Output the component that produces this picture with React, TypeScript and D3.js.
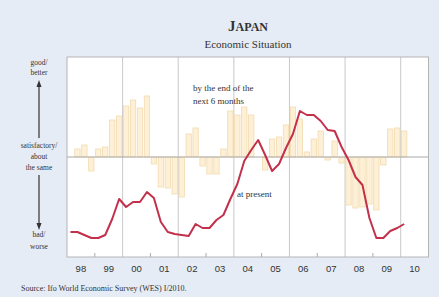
import React from 'react';
import * as d3 from 'd3';

// quarterly, 1998 Q1 .. 2010 Q1
const startYear = 1998;
const presentValues = [
  -75, -75, -78, -81,
  -81, -78, -62, -42,
  -50, -45, -45, -35,
  -41, -65, -75, -77,
  -78, -79, -67, -71,
  -71, -63, -58, -42,
  -27, -4, 7, 17,
  2, -14, -7, 9,
  23, 46, 42, 42,
  36, 27, 26, 10,
  -3, -20, -28, -61,
  -81, -81, -74, -71,
  -67,
];
const expectValues = [
  0, 8, 12, -14,
  8, 10, 37, 41,
  51, 57, 49, 61,
  -7, -30, -31, -37,
  -40, 23, 29, -9,
  -17, -17, 8, 46,
  42, 50, 42, 0,
  -13, 18, 20, 32,
  50, 38, 5, 18,
  26, -3, 16, -6,
  -48, -51, -50, -47,
  -53, -8, 28, 29,
  26,
];
const yearLabels = ['98', '99', '00', '01', '02', '03', '04', '05', '06', '07', '08', '09', '10'];

const W = 439;
const H = 297;
const left = 67;
const right = 428.5;
const top = 57;
const bottom = 257;
const serif = '"Liberation Serif", "DejaVu Serif", serif';
const sans = '"Liberation Sans", Arial, sans-serif';
const textCol = '#333';

export default function App() {
  const x = d3.scaleLinear().domain([startYear, startYear + yearLabels.length]).range([left, right]);
  const y = d3.scaleLinear().domain([-100, 100]).range([bottom, top]);
  const qw = x(startYear + 0.25) - x(startYear);

  const line = d3
    .line<number>()
    .x((_, i) => x(startYear + (i + 0.5) / 4))
    .y((d) => y(d));

  const years = d3.range(startYear, startYear + yearLabels.length + 1);

  return (
    <svg width={W} height={H} style={{ position: 'absolute', left: 0, top: 0 }}>
      <rect x={0} y={0} width={W} height={H} fill="#e6ecf5" />
      <text x={248} y={31} textAnchor="middle" fontFamily={serif} fill={textCol} fontWeight="bold">
        <tspan fontSize={15}>J</tspan>
        <tspan fontSize={12}>APAN</tspan>
      </text>
      <text x={248} y={48} textAnchor="middle" fontFamily={serif} fontSize={11} fill={textCol}>
        Economic Situation
      </text>

      <rect x={left} y={top} width={right - left} height={bottom - top} fill="#fff" />

      {/* grid lines on even years, ticks on odd years */}
      {years.slice(1, -1).map((yr) =>
        yr % 2 === 0 ? (
          <line key={yr} x1={x(yr)} x2={x(yr)} y1={top} y2={bottom} stroke="#c9c9c9" strokeWidth={1} />
        ) : (
          <line key={yr} x1={x(yr)} x2={x(yr)} y1={bottom - 4} y2={bottom} stroke="#aaa" strokeWidth={1} />
        )
      )}

      {expectValues.map((v, i) => {
        const x0 = x(startYear + i / 4);
        return (
          <rect
            key={i}
            x={x0 + 0.8}
            y={Math.min(y(v), y(0))}
            width={qw - 1.6}
            height={Math.abs(y(v) - y(0))}
            fill="#fdf0d6"
            stroke="#f1dbb0"
            strokeWidth={0.8}
          />
        );
      })}

      <line x1={left} x2={right} y1={y(0)} y2={y(0)} stroke="#a8a8a8" strokeWidth={1} />

      <path d={line(presentValues) || ''} fill="none" stroke="#c3304c" strokeWidth={2} strokeLinejoin="round" />

      <rect x={left} y={top} width={right - left} height={bottom - top} fill="none" stroke="#b4b4b4" strokeWidth={1} />

      <text fontFamily={serif} fontSize={9} fill={textCol}>
        <tspan x={193} y={91}>by the end of the</tspan>
        <tspan x={193} y={104}>next 6 months</tspan>
      </text>
      <text x={237} y={197} fontFamily={serif} fontSize={9} fill={textCol}>
        at present
      </text>

      {/* left side scale description */}
      <g fontFamily={serif} fontSize={7.5} fill={textCol} textAnchor="middle">
        <text x={39} y={65}>good/</text>
        <text x={39} y={75}>better</text>
        <text x={39} y={148}>satisfactory/</text>
        <text x={39} y={159}>about</text>
        <text x={39} y={170}>the same</text>
        <text x={39} y={237}>bad/</text>
        <text x={39} y={249}>worse</text>
      </g>
      <line x1={39} x2={39} y1={86} y2={138} stroke="#333" strokeWidth={1.2} />
      <path d="M36.5,87 L39,80 L41.5,87 Z" fill="#333" />
      <line x1={39} x2={39} y1={175} y2={224} stroke="#333" strokeWidth={1.2} />
      <path d="M36.5,223 L39,230 L41.5,223 Z" fill="#333" />

      {yearLabels.map((lbl, i) => (
        <text
          key={lbl}
          x={x(startYear + i + 0.5)}
          y={272}
          textAnchor="middle"
          fontFamily={sans}
          fontSize={9.5}
          fill={textCol}
        >
          {lbl}
        </text>
      ))}

      <text x={21} y={291} fontFamily={serif} fontSize={8} fill={textCol}>
        Source: Ifo World Economic Survey (WES) I/2010.
      </text>
    </svg>
  );
}
